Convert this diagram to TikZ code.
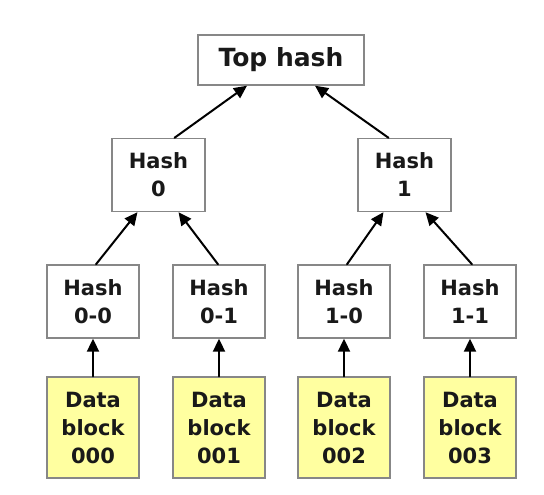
\documentclass[tikz,border=0pt]{standalone}
\usepackage{fontspec}
\newfontfamily\hashfont{DejaVu Sans}
\usetikzlibrary{arrows.meta}
\definecolor{blockfill}{RGB}{255,255,160}
\definecolor{boxline}{RGB}{135,135,135}
\tikzset{
  hashbox/.style={draw=boxline, line width=1.4pt, fill=white, text=black!90,
    minimum width=92pt, minimum height=73pt, inner sep=0pt, align=center,
    font=\hashfont\bfseries\fontsize{21}{28}\selectfont},
  blockbox/.style={hashbox, fill=blockfill, minimum height=101pt},
  link/.style={line width=2pt, -{Triangle[length=13pt,width=12pt]}},
}
\begin{document}
\begin{tikzpicture}[x=1pt,y=1pt,line cap=round]
  \useasboundingbox (0,0) rectangle (544,495);
  % root and the two inner hashes
  \node[hashbox, minimum width=166pt, minimum height=50pt,
    font=\hashfont\bfseries\fontsize{25}{28}\selectfont] (top) at (281,435) {Top hash};
  \node[hashbox, minimum width=93pt, minimum height=73pt] (h0) at (158.5,320) {Hash\\0};
  \node[hashbox, minimum width=93pt, minimum height=73pt] (h1) at (404.5,320) {Hash\\1};
  % leaf hashes with their data blocks
  \foreach \name/\x/\lbl/\blk in {
    h00/93/0-0/000,
    h01/219/0-1/001,
    h10/344/1-0/002,
    h11/470/1-1/003} {
    \node[hashbox] (\name) at (\x,193.5) {Hash\\\lbl};
    \node[blockbox] (d\name) at (\x,67.5) {Data\\block\\\blk};
    \draw[link] (d\name) -- (\name);
  }
  \draw[link] ([xshift=3pt]h00.north) -- ([xshift=-21pt]h0.south);
  \draw[link] ([xshift=-1pt]h01.north) -- ([xshift=20pt]h0.south);
  \draw[link] ([xshift=3pt]h10.north) -- ([xshift=-21pt]h1.south);
  \draw[link] ([xshift=2pt]h11.north) -- ([xshift=21pt]h1.south);
  \draw[link] ([xshift=16pt]h0.north) -- ([xshift=-34pt]top.south);
  \draw[link] ([xshift=-16pt]h1.north) -- ([xshift=34pt]top.south);
\end{tikzpicture}
\end{document}
